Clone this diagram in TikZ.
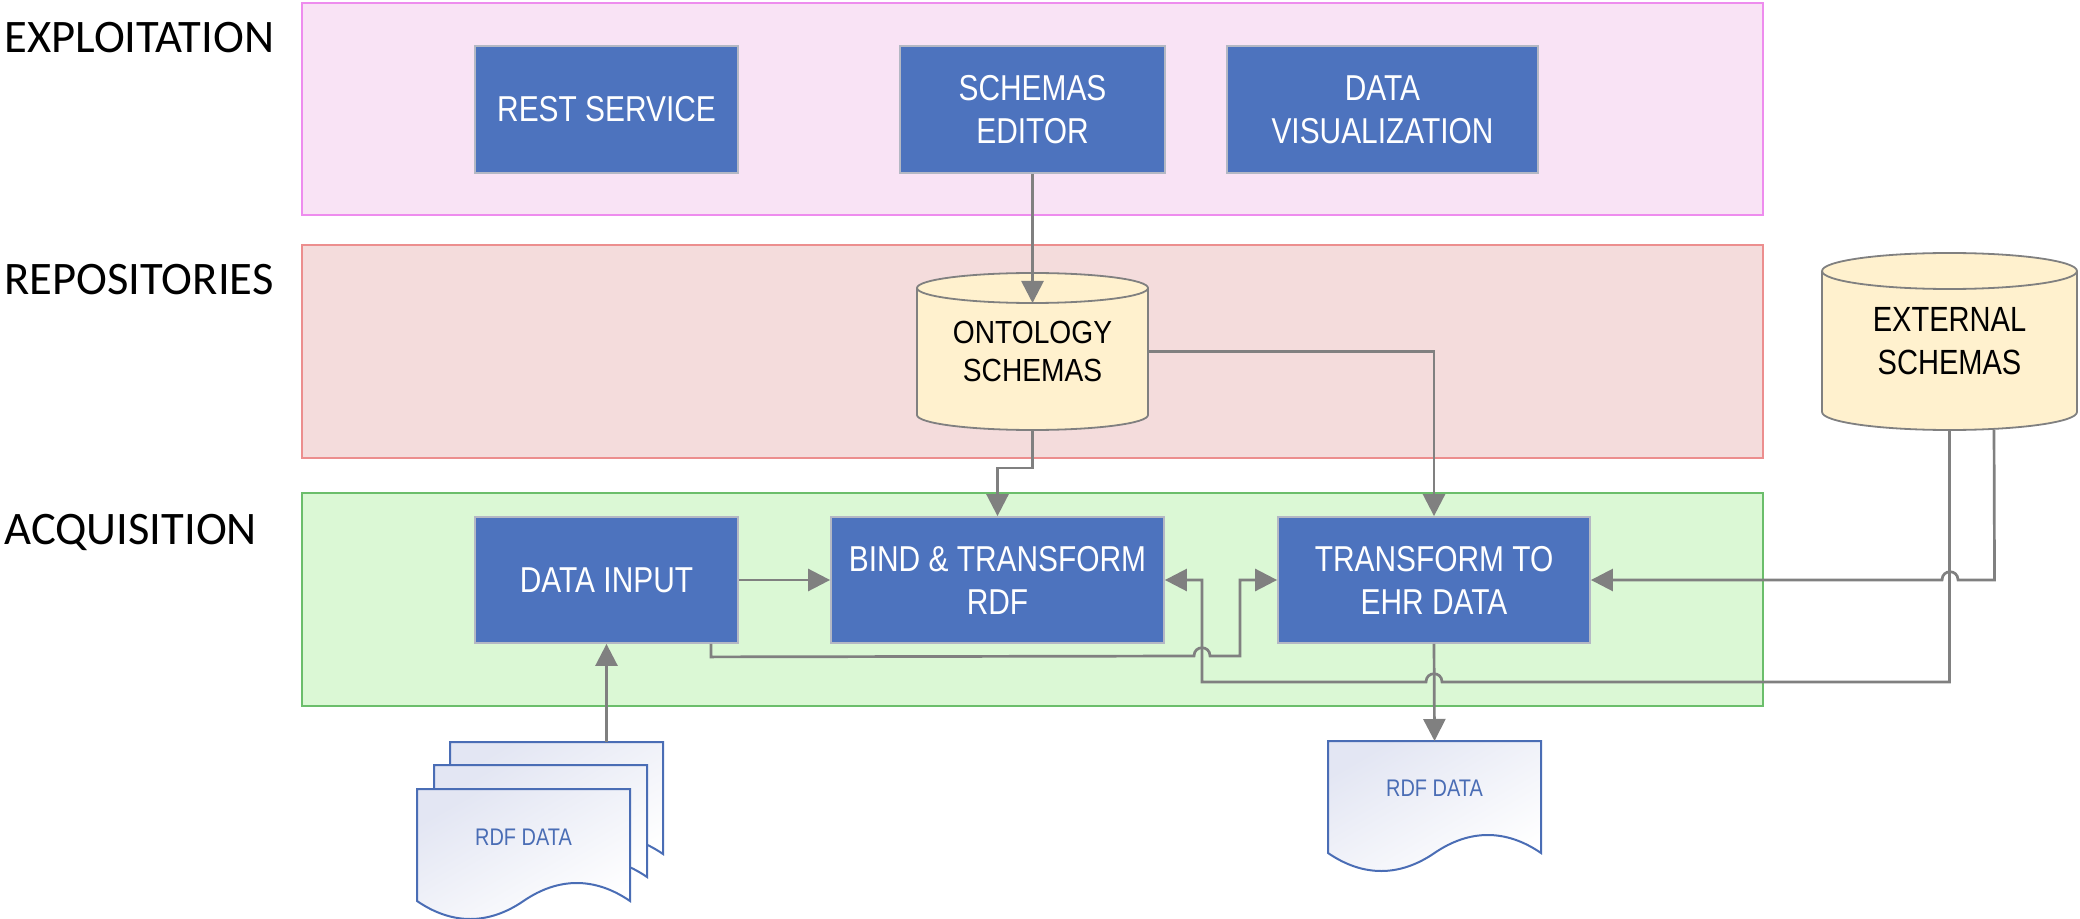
\documentclass[tikz,border=0pt]{standalone}
\usepackage{fontspec}
\setmainfont{Carlito}
\newfontfamily\boxfont{Liberation Sans}[FakeStretch=0.83]
\newfontfamily\cylfont{Liberation Sans}[FakeStretch=0.88]
\usetikzlibrary{arrows.meta,calc}
\pgfdeclarelayer{bg}
\pgfdeclarelayer{mid}
\pgfsetlayers{bg,mid,main}

\definecolor{exFill}{HTML}{F9E3F5}
\definecolor{exEdge}{HTML}{EE8CEE}
\definecolor{reFill}{HTML}{F4DCDC}
\definecolor{reEdge}{HTML}{EC8E8E}
\definecolor{acFill}{HTML}{DBF8D5}
\definecolor{acEdge}{HTML}{6BBE6B}
\definecolor{boxblue}{HTML}{4D73BE}
\definecolor{boxedge}{HTML}{B4B8C4}
\definecolor{cylfill}{HTML}{FFF1CE}
\definecolor{cyledge}{HTML}{808080}
\definecolor{linegray}{HTML}{808080}
\definecolor{docblue}{HTML}{4A6DB5}
\definecolor{docshade}{HTML}{E3E6F3}

% database cylinder drawn behind its (named) node
\newcommand\cylbody[3]{%
  \begin{pgfonlayer}{mid}
  \path[fill=cylfill, draw=cyledge, line width=0.9pt]
     ([yshift=-#3]#1.north west) -- ([yshift=#3]#1.south west)
     arc[start angle=180,end angle=360,x radius=#2,y radius=#3]
     -- ([yshift=-#3]#1.north east)
     arc[start angle=0,end angle=180,x radius=#2,y radius=#3] -- cycle;
  \draw[draw=cyledge, line width=0.9pt] ([yshift=-#3]#1.north west)
     arc[start angle=180,end angle=360,x radius=#2,y radius=#3];
  \end{pgfonlayer}}

% document sheet with wavy lower edge; #1 = left, #2 = top
\newcommand\docpath[2]{%
  \begin{pgfonlayer}{mid}
  \path[docshape] (#1,#2) -- ++(213,0) -- ++(0,112)
     .. controls +(-35,-24) and +(35,-24) .. ++(-106.5,0)
     .. controls +(-35,24) and +(35,24) .. ++(-106.5,0) -- cycle;
  \end{pgfonlayer}}

\begin{document}
\begin{tikzpicture}[x=0.5pt, y=-0.5pt,
  band/.style={line width=1.2pt},
  layerlabel/.style={anchor=base west, inner sep=0pt,
    font=\fontsize{23.3pt}{28pt}\selectfont},
  procbox/.style={draw=boxedge, line width=0.9pt, fill=boxblue, text=white,
    align=center, inner sep=0pt,
    font=\boxfont\fontsize{18pt}{21.5pt}\selectfont},
  store/.style={inner sep=0pt, outer sep=0pt, align=center},
  conn/.style={draw=linegray, line width=1.35pt, line join=miter,
    -{Triangle[length=11pt,width=11pt]}},
  docshape/.style={draw=docblue, line width=1pt, top color=docshade,
    bottom color=white, shading angle=30},
  doclabel/.style={inner sep=0pt, outer sep=0pt, text=docblue,
    minimum width=106.5pt, minimum height=47pt,
    font=\boxfont\fontsize{12pt}{14pt}\selectfont}]

\useasboundingbox (0,0) rectangle (2080,919);

% layer bands
\begin{pgfonlayer}{bg}
  \draw[band, draw=exEdge, fill=exFill] (302,3) rectangle (1763,215);
  \draw[band, draw=reEdge, fill=reFill] (302,245) rectangle (1763,458);
  \draw[band, draw=acEdge, fill=acFill] (302,493) rectangle (1763,706);
\end{pgfonlayer}

% layer titles
\node[layerlabel] (lexp) at (4,53) {EXPLOITATION};
\node[layerlabel] (lrep) at (4,295) {REPOSITORIES};
\node[layerlabel] (lacq) at (4,544) {ACQUISITION};

% exploitation
\node[procbox, minimum width=131.5pt, minimum height=63.5pt] (rest) at (606.5,109.5) {REST SERVICE};
\node[procbox, minimum width=132.5pt, minimum height=63.5pt] (editor) at (1032.5,109.5) {SCHEMAS\\EDITOR};
\node[procbox, minimum width=155.5pt, minimum height=63.5pt] (vis) at (1382.5,109.5) {DATA\\VISUALIZATION};

% repositories
\node[store, minimum width=115.5pt, minimum height=78.5pt,
      font=\cylfont\fontsize{16pt}{19pt}\selectfont] (onto) at (1032.5,351.5) {ONTOLOGY\\SCHEMAS};
\cylbody{onto}{57.75pt}{7.5pt}
\node[store, minimum width=127.5pt, minimum height=88.5pt,
      font=\boxfont\fontsize{17.5pt}{21.5pt}\selectfont] (ext) at (1949.5,341.5) {EXTERNAL\\SCHEMAS};
\cylbody{ext}{63.75pt}{9pt}

% acquisition
\node[procbox, minimum width=131.5pt, minimum height=63pt] (input) at (606.5,580) {DATA INPUT};
\node[procbox, minimum width=166.5pt, minimum height=63pt] (bind) at (997.5,580) {BIND \& TRANSFORM\\RDF};
\node[procbox, minimum width=156pt, minimum height=63pt] (ehr) at (1434,580) {TRANSFORM TO\\EHR DATA};

% documents
\node[store, minimum width=106.5pt, minimum height=56pt] (backdoc) at (556.5,798) {};
\docpath{450}{742}
\docpath{434}{765}
\docpath{417}{789}
\node[doclabel] (rdfin) at (523.5,837) {RDF DATA};
\docpath{1328}{741}
\node[doclabel] (rdfout) at (1434.5,788) {RDF DATA};

% connectors
\draw[conn] (editor.south) -- ([yshift=-15pt]onto.north);
\draw[conn] (onto.south) -- ++(0,38) -| (bind.north);
\draw[conn] (onto.east) -| (ehr.north);
\draw[conn] (input.east) -- (bind.west);
\draw[conn] ([xshift=-14pt]input.south east) -- ++(0,13) -- (1194,656)
   .. controls (1194,645) and (1210,645) .. (1210,656)
   -- (1240,656) -- (1240,580) -- (ehr.west);
\draw[conn] ([xshift=22.25pt]ext.south) -- (1994.5,580) -- (1958,580)
   .. controls (1958,569) and (1942,569) .. (1942,580) -- (ehr.east);
\draw[conn] (ext.south) -- (1949.5,682) -- (1442,682)
   .. controls (1442,671) and (1426,671) .. (1426,682)
   -- (1202,682) -- (1202,580) -- (bind.east);
\draw[conn] (ehr.south) -- (rdfout.north);
\draw[conn] (input.south |- backdoc.north) -- (input.south);

\end{tikzpicture}
\end{document}
